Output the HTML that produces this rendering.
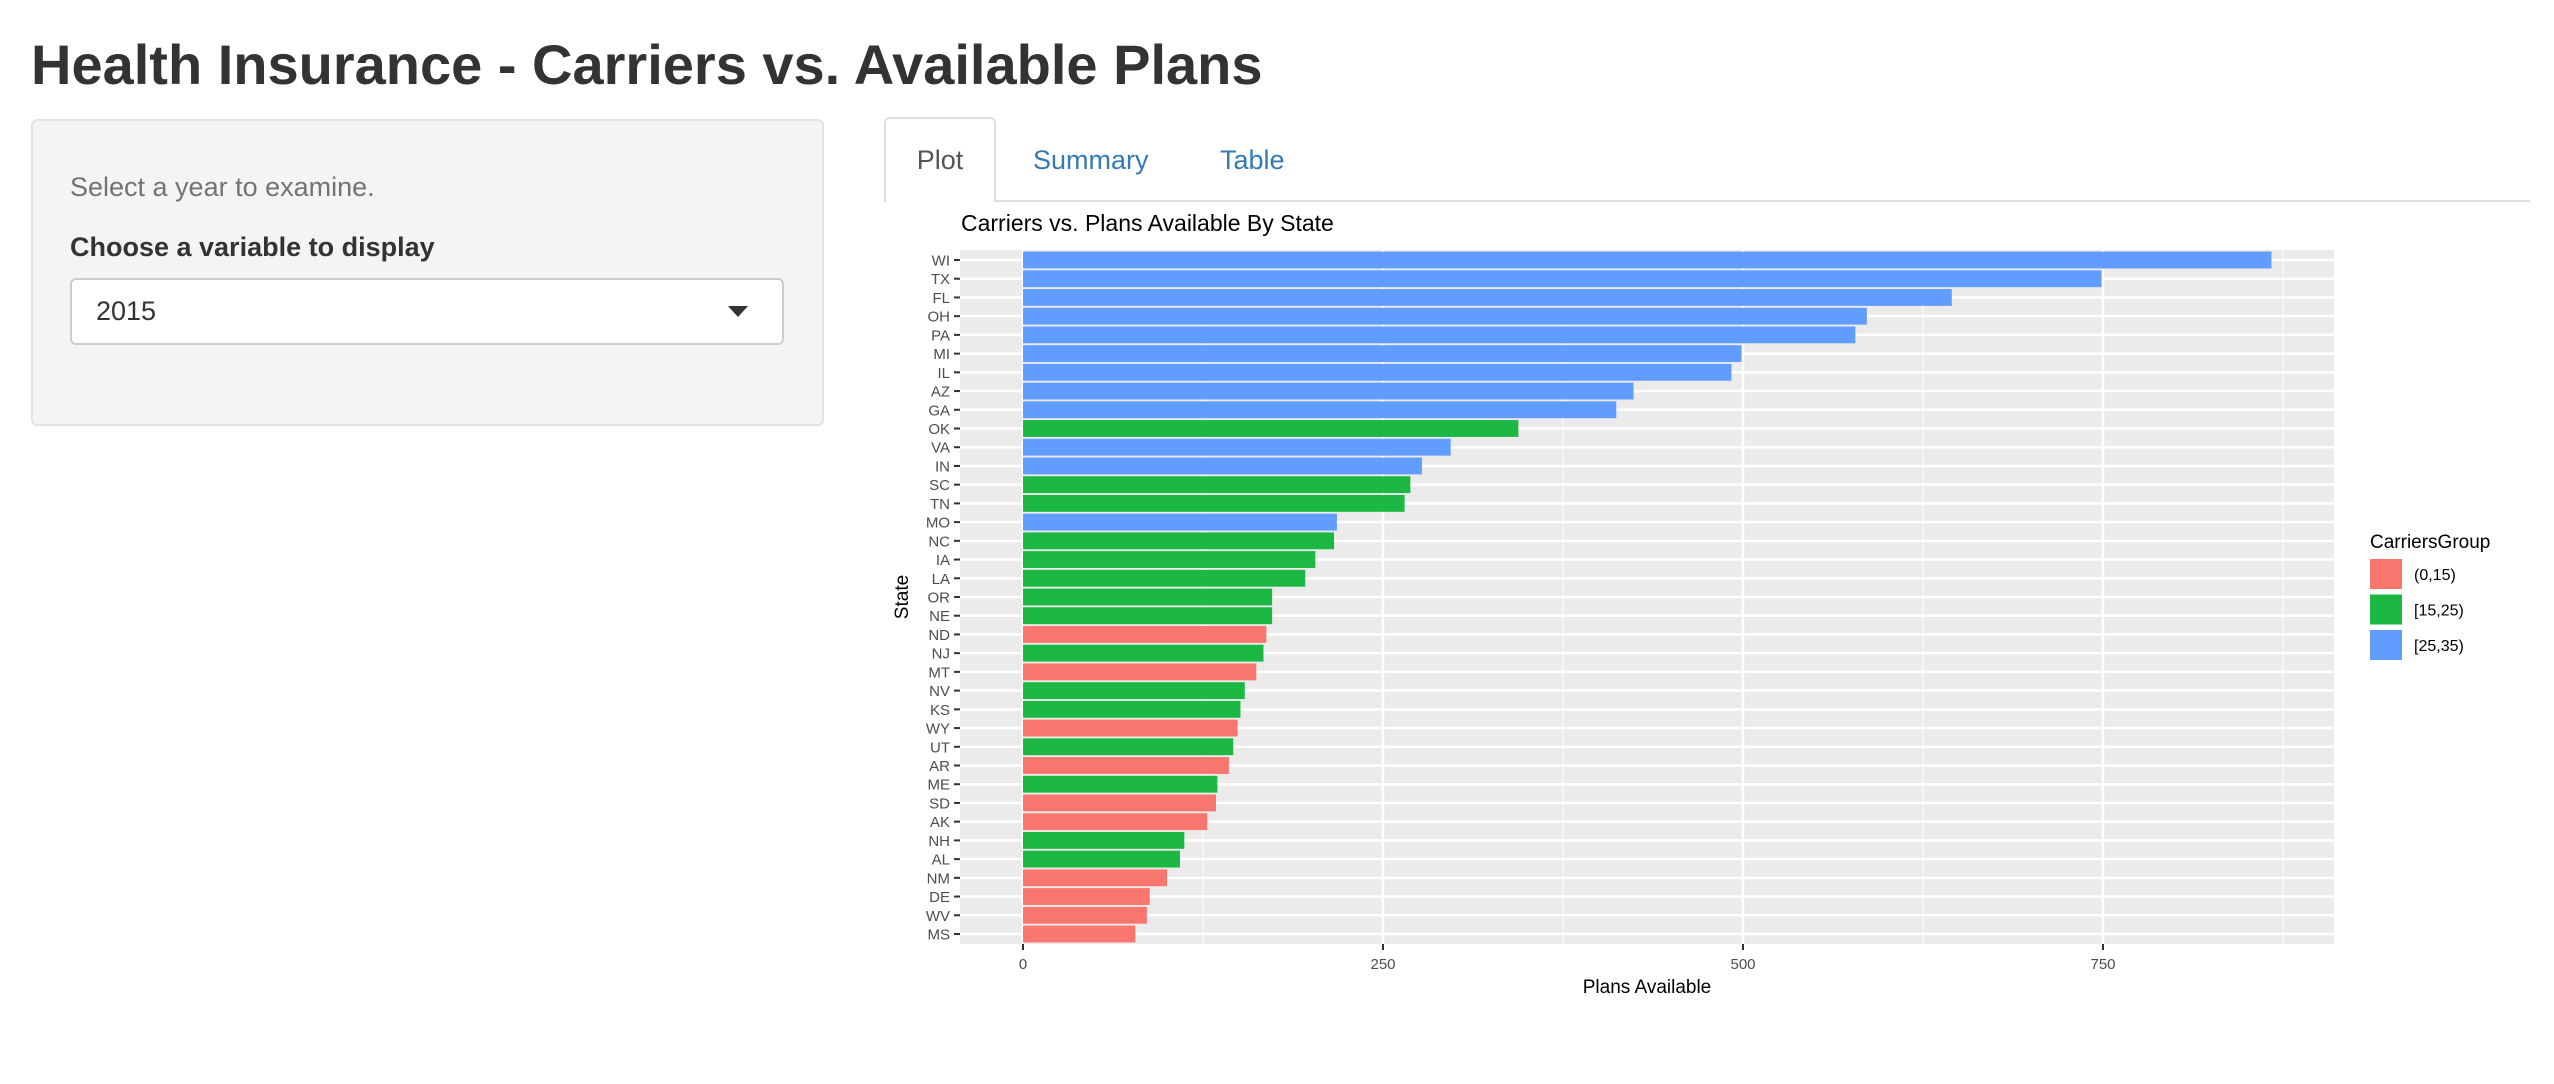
<!DOCTYPE html>
<html><head><meta charset="utf-8">
<style>
body{margin:0;width:2554px;height:1084px;background:#fff;font-family:"Liberation Sans",sans-serif;position:relative;overflow:hidden;color:#333}
.abs{position:absolute}
</style></head><body>
<div class="abs" style="left:31px;top:32px;font-size:56px;font-weight:bold;color:#333;white-space:nowrap">Health Insurance - Carriers vs. Available Plans</div>
<div class="abs" style="left:31px;top:119px;width:793px;height:307px;background:#f4f4f4;border:2px solid #e3e3e3;border-radius:6px;box-sizing:border-box"></div>
<div class="abs" style="left:70px;top:172px;font-size:27px;color:#737373">Select a year to examine.</div>
<div class="abs" style="left:70px;top:232px;font-size:27px;font-weight:bold;color:#333">Choose a variable to display</div>
<div class="abs" style="left:70px;top:278px;width:714px;height:67px;background:#fff;border:2px solid #ccc;border-radius:6px;box-sizing:border-box">
<span style="position:absolute;left:24px;top:16px;font-size:27px;color:#333">2015</span>
<span style="position:absolute;right:34px;top:26px;width:0;height:0;border-left:10px solid transparent;border-right:10px solid transparent;border-top:11px solid #333"></span>
</div>
<div class="abs" style="left:884px;top:200px;width:1646px;height:2px;background:#ddd"></div>
<div class="abs" style="left:884px;top:117px;width:112px;height:85px;background:#fff;border:2px solid #ddd;border-bottom:none;border-radius:6px 6px 0 0;box-sizing:border-box;font-size:27px;color:#555;text-align:center;line-height:82px">Plot</div>
<div class="abs" style="left:1033px;top:145px;font-size:27px;color:#337ab7">Summary</div>
<div class="abs" style="left:1220px;top:145px;font-size:27px;color:#337ab7">Table</div>
<svg class="abs" style="left:0;top:0" width="2554" height="1084" id="chart"></svg>
<script>
const states=["WI","TX","FL","OH","PA","MI","IL","AZ","GA","OK","VA","IN","SC","TN","MO","NC","IA","LA","OR","NE","ND","NJ","MT","NV","KS","WY","UT","AR","ME","SD","AK","NH","AL","NM","DE","WV","MS"];
const plans=[867,749,645,586,578,499,492,424,412,344,297,277,269,265,218,216,203,196,173,173,169,167,162,154,151,149,146,143,135,134,128,112,109,100,88,86,78];
const groups=["[25,35)","[25,35)","[25,35)","[25,35)","[25,35)","[25,35)","[25,35)","[25,35)","[25,35)","[15,25)","[25,35)","[25,35)","[15,25)","[15,25)","[25,35)","[15,25)","[15,25)","[15,25)","[15,25)","[15,25)","(0,15)","[15,25)","(0,15)","[15,25)","[15,25)","(0,15)","[15,25)","(0,15)","[15,25)","(0,15)","(0,15)","[15,25)","[15,25)","(0,15)","(0,15)","(0,15)","(0,15)"];
const groupNames=["(0,15)","[15,25)","[25,35)"];
const groupColors=["#F8766D","#1CB843","#619CFF"];
const xTicks=[0,250,500,750];
const xMinor=[125,375,625,875];
const NS="http://www.w3.org/2000/svg";
const svg=document.getElementById('chart');
const PL=960,PR=2334,PT=250,PB=944;
const x=v=>1023+v*1.44;
const y=i=>260+i*((934-260)/(states.length-1));
const step=(934-260)/(states.length-1);
function mk(t,a,txt){const e=document.createElementNS(NS,t);for(const k in a)e.setAttribute(k,a[k]);if(txt!==undefined)e.textContent=txt;svg.appendChild(e);return e;}
let e=mk('rect',{x:PL,y:PT,width:PR-PL,height:PB-PT,fill:'#EBEBEB'});


xMinor.forEach(v=>{if(x(v)<PR){const l=mk('line',{x1:x(v),x2:x(v),y1:PT,y2:PB,stroke:'#fff','stroke-width':1});

}});
xTicks.forEach(v=>{const l=mk('line',{x1:x(v),x2:x(v),y1:PT,y2:PB,stroke:'#fff','stroke-width':2.5});

});
states.forEach((s,i)=>{const l=mk('line',{x1:PL,x2:PR,y1:y(i),y2:y(i),stroke:'#fff','stroke-width':2.5});

});
states.forEach((s,i)=>{
const gi=groupNames.indexOf(groups[i]);
const r=mk('rect',{x:x(0),y:y(i)-step*0.45,width:x(plans[i])-x(0),height:step*0.9,fill:groupColors[gi]});


const t=mk('text',{x:PL-10,y:y(i)+5.5,'font-size':15,fill:'#4d4d4d','text-anchor':'end'},s);


mk('line',{x1:PL-6,x2:PL,y1:y(i),y2:y(i),stroke:'#333','stroke-width':2});
});
xTicks.forEach(v=>{
mk('line',{x1:x(v),x2:x(v),y1:PB,y2:PB+6,stroke:'#333','stroke-width':2});
const t=mk('text',{x:x(v),y:PB+25,'font-size':15,fill:'#4d4d4d','text-anchor':'middle'},v);


});
e=mk('text',{x:961,y:231,'font-size':23,fill:'#000'},'Carriers vs. Plans Available By State');


e=mk('text',{x:(PL+PR)/2,y:993,'font-size':19,fill:'#000','text-anchor':'middle'},'Plans Available');


e=mk('text',{x:0,y:0,'font-size':19,fill:'#000','text-anchor':'middle',transform:`translate(908,${(PT+PB)/2}) rotate(-90)`},'State');


e=mk('text',{x:2370,y:548,'font-size':19,fill:'#000'},'CarriersGroup');


groupNames.forEach((g,i)=>{
const k=mk('rect',{x:2370,y:559+i*35.5,width:32,height:30,fill:groupColors[i]});


const t=mk('text',{x:2414,y:580+i*35.5,'font-size':16,fill:'#000'},g);


});
</script>
</body></html>
